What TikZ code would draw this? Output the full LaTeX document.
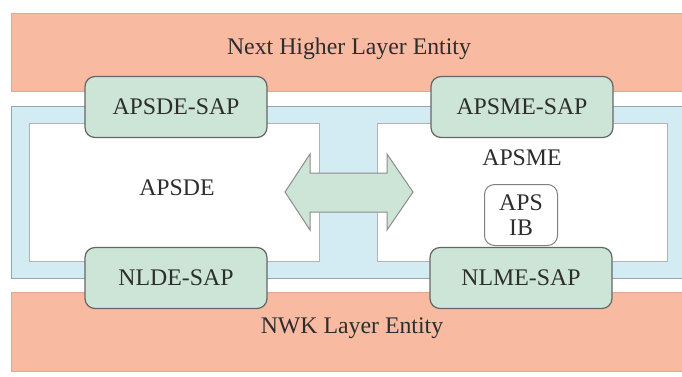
\documentclass[tikz,border=0pt]{standalone}
\usepackage{fontspec}
\setmainfont{Liberation Serif}
\usepackage{xcolor}
\usepackage{tikz}

\definecolor{entityRed}{RGB}{249,186,162}
\definecolor{apsBlue}{RGB}{211,236,244}
\definecolor{sapGreen}{RGB}{204,229,214}
\definecolor{textGray}{RGB}{45,45,45}

\begin{document}
\begin{tikzpicture}[
		x=0.5pt, y=-0.5pt,
		font=\fontsize{11.9}{12.5}\selectfont,
		text=textGray,
		entity/.style={fill=entityRed, draw=entityRed!90!black, line width=0.4pt},
		band/.style={fill=apsBlue, draw=apsBlue!70!black, line width=0.4pt},
		inner/.style={fill=white, draw=black!30, line width=0.4pt},
		sap/.style={draw=black!60, fill=sapGreen, rounded corners=5pt, line width=0.6pt, minimum width=91pt, minimum height=30.5pt, inner sep=0pt},
		ib/.style={draw=black!50, fill=white, rounded corners=5pt, line width=0.5pt, minimum width=36.5pt, minimum height=30.5pt, inner sep=0pt, align=center}
	]
	
	% page size
	\useasboundingbox (0,0) rectangle (682,376);
	
	\def\bandTop{106} % top of the APS band
	\def\bandBot{278} % bottom of the APS band
	\def\gapL{319} % right edge of the APSDE area
	\def\gapR{377} % left edge of the APSME area
	
	% the two layer entities
	\draw[entity] (11,13) rectangle (683,91);
	\draw[entity] (11,292) rectangle (683,371);
	\node (nhle) at (349,49) {Next Higher Layer Entity};
	\node (nwk) at (352,328) {NWK Layer Entity};
	
	% the APS band with its two parts
	\draw[band] (11,\bandTop) rectangle (683,\bandBot);
	\draw[inner] (29,123) rectangle (\gapL,261);
	\draw[inner] (\gapR,123) rectangle (667,261);
	\node (apsde) at (177,188) {APSDE};
	\node (apsme) at (522,158) {APSME};
	\node[ib] (apsib) at (521,215) {APS\\IB};
	
	% the service access points
	\node[sap] (apsdeSap) at (176,107) {APSDE-SAP};
	\node[sap] (apsmeSap) at (522,107) {APSME-SAP};
	\node[sap] (nldeSap) at (176,278) {NLDE-SAP};
	\node[sap] (nlmeSap) at (521,278) {NLME-SAP};
	
	% exchange between data and management entity
	\filldraw[draw=black!45, fill=sapGreen, line width=0.5pt, line join=miter]
		(285,192) -- (310,154) -- (310,173) -- (387,173) -- (387,154) -- (413,192)
		-- (387,230) -- (387,212) -- (310,212) -- (310,230) -- cycle;
	
\end{tikzpicture}
\end{document}
